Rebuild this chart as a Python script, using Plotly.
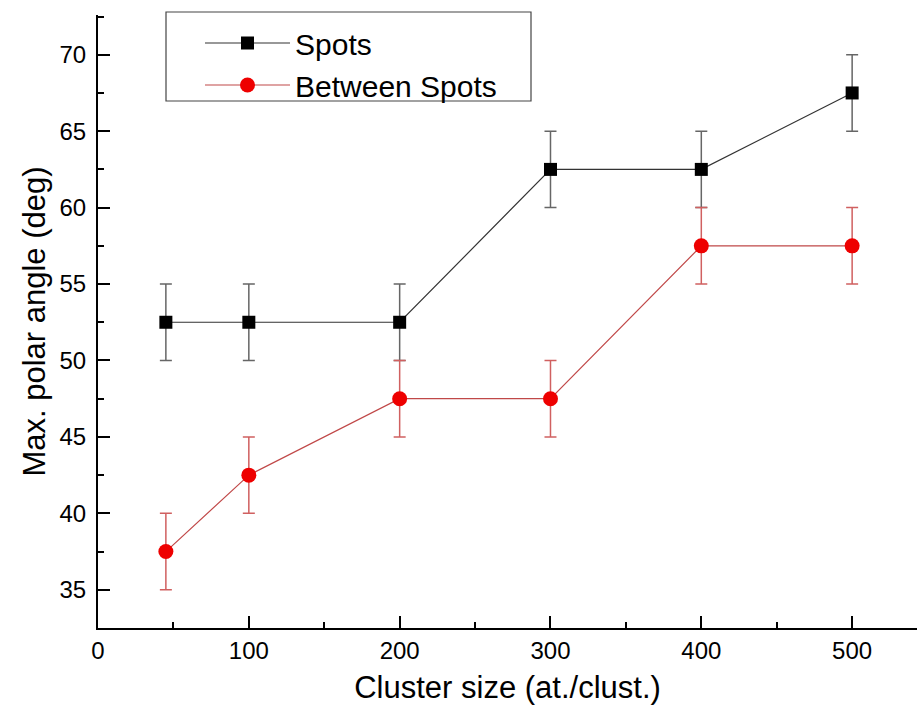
import plotly.graph_objects as go

cluster_size = [45, 100, 200, 300, 400, 500]
spots = [52.5, 52.5, 52.5, 62.5, 62.5, 67.5]
spots_err = [2.5, 2.5, 2.5, 2.5, 2.5, 2.5]
between = [37.5, 42.5, 47.5, 47.5, 57.5, 57.5]
between_err = [2.5, 2.5, 2.5, 2.5, 2.5, 2.5]

x_ticks = [0, 100, 200, 300, 400, 500]
y_ticks = [35, 40, 45, 50, 55, 60, 65, 70]

fig = go.Figure()
fig.add_trace(go.Scatter(
    x=cluster_size, y=spots, name="Spots", mode="lines+markers",
    line=dict(color="#333333", width=1.2),
    marker=dict(symbol="square", size=13, color="black"),
    error_y=dict(type="data", array=spots_err, color="#666666", thickness=1.5, width=6),
))
fig.add_trace(go.Scatter(
    x=cluster_size, y=between, name="Between Spots", mode="lines+markers",
    line=dict(color="#c04848", width=1.2),
    marker=dict(symbol="circle", size=15, color="#ee0000"),
    error_y=dict(type="data", array=between_err, color="#d06060", thickness=1.5, width=6),
))

font = "Liberation Sans, Arial, sans-serif"
# plot area: x 98..917, y 15..628
fig.update_layout(
    width=917, height=725,
    margin=dict(l=98, r=0, t=15, b=97),
    paper_bgcolor="white", plot_bgcolor="white",
    font=dict(family=font, color="black"),
    showlegend=True,
    legend=dict(
        x=(200 - 98) / 819, y=(628 - 17) / 613, xanchor="left", yanchor="top",
        borderwidth=0, bgcolor="rgba(0,0,0,0)",
        font=dict(size=30, family=font),
        itemwidth=85, tracegroupgap=0,
    ),
    shapes=[dict(
        type="rect", xref="paper", yref="paper",
        x0=(166 - 98) / 819, x1=(531 - 98) / 819,
        y0=(628 - 101) / 613, y1=(628 - 12) / 613,
        line=dict(color="#444444", width=1.2), fillcolor="rgba(0,0,0,0)",
    )],
    xaxis=dict(
        range=[0, 543], tickvals=x_ticks, ticks="inside", ticklen=12, tickwidth=2,
        showline=True, linecolor="black", linewidth=2, showgrid=False, zeroline=False,
        tickfont=dict(size=24), title=dict(text="Cluster size (at./clust.)", font=dict(size=31), standoff=14),
        minor=dict(dtick=50, tick0=0, ticks="inside", ticklen=6, tickwidth=2, tickcolor="black"),
        tickcolor="black",
    ),
    yaxis=dict(
        range=[32.5, 72.6], tickvals=y_ticks, ticks="inside", ticklen=12, tickwidth=2,
        showline=True, linecolor="black", linewidth=2, showgrid=False, zeroline=False,
        tickfont=dict(size=24), ticklabelstandoff=5,
        title=dict(text="Max. polar angle (deg)", font=dict(size=31), standoff=5),
        minor=dict(dtick=2.5, tick0=0, ticks="inside", ticklen=6, tickwidth=2, tickcolor="black"),
        tickcolor="black",
    ),
)
fig.write_html("out.html")
